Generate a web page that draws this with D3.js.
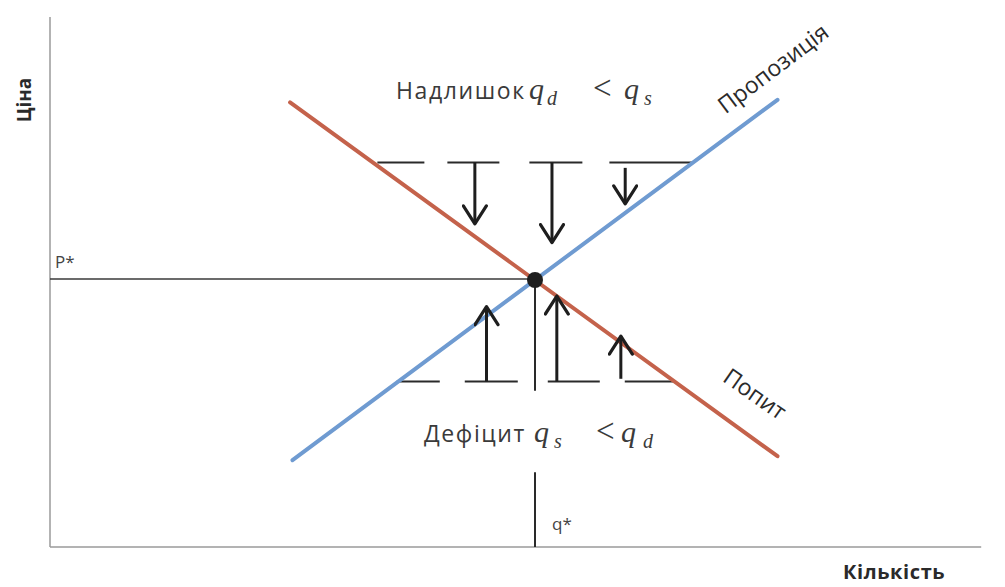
<!DOCTYPE html>
<html>
<head>
<meta charset="utf-8">
<script src="https://cdn.jsdelivr.net/npm/d3@7"></script>
<style>
  body { margin: 0; background: #fff; }
  svg { display: block; }
</style>
</head>
<body>
<div id="chart"></div>
<script>
const width = 1005;
const height = 587;

// lines in (quantity, price) units, equilibrium at (10, 10)
const supply = [{ q: 5.0, p: 3.25 }, { q: 15.0, p: 16.75 }];
const demand = [{ q: 4.95, p: 16.65 }, { q: 15.0, p: 3.4 }];
const equilibrium = { q: 10, p: 10 };
const axisEnd = { q: 19.2, p: 19.85 };

// dashed price levels above / below equilibrium
const priceLevels = [
    { p: 14.4, q0: 6.75, q1: 13.25, dash: '47,23,52,30,53,27,90' },
    { p: 6.2, q0: 7.15, q1: 12.9, dash: '43,25,53,30,52,25,60' }
];

// arrows: quantity, start price, end price
const arrows = [
    { q: 8.76, from: 14.4, to: 12.1 },
    { q: 10.35, from: 14.4, to: 11.4 },
    { q: 11.86, from: 14.2, to: 12.85 },
    { q: 9.0, from: 6.2, to: 9.0 },
    { q: 10.45, from: 6.2, to: 9.4 },
    { q: 11.77, from: 6.3, to: 7.9 }
];

// q* guide pieces (gap left for the shortage label)
const qStarPieces = [[10, 5.85], [2.8, 0]];

const x = d3.scaleLinear().domain([0, 10]).range([50, 535]);
const y = d3.scaleLinear().domain([0, 10]).range([547, 280]);

const svg = d3.select('#chart')
    .append('svg')
    .attr('width', width)
    .attr('height', height);

svg.append('defs').append('marker')
    .attr('id', 'head')
    .attr('markerUnits', 'userSpaceOnUse')
    .attr('viewBox', '0 0 22 26')
    .attr('refX', 20)
    .attr('refY', 13)
    .attr('markerWidth', 22)
    .attr('markerHeight', 26)
    .attr('orient', 'auto')
    .append('path')
    .attr('d', 'M2,1.5 L20,13 L2,24.5')
    .attr('fill', 'none')
    .attr('stroke', '#1e1e1e')
    .attr('stroke-width', 3.2)
    .attr('stroke-linecap', 'round')
    .attr('stroke-linejoin', 'round');

// axes
svg.append('line')
    .attr('x1', x(0)).attr('y1', y(0))
    .attr('x2', x(0)).attr('y2', y(axisEnd.p))
    .attr('stroke', '#9a9a9a').attr('stroke-width', 1.5);
svg.append('line')
    .attr('x1', x(0)).attr('y1', y(0))
    .attr('x2', x(axisEnd.q)).attr('y2', y(0))
    .attr('stroke', '#9a9a9a').attr('stroke-width', 1.5);

// P* guide
svg.append('line')
    .attr('x1', x(0)).attr('y1', y(equilibrium.p) - 1)
    .attr('x2', x(equilibrium.q)).attr('y2', y(equilibrium.p) - 1)
    .attr('stroke', '#3a3a3a').attr('stroke-width', 1.6);

// q* guide
svg.selectAll('line.qstar')
    .data(qStarPieces)
    .enter()
    .append('line')
    .attr('class', 'qstar')
    .attr('x1', x(equilibrium.q)).attr('x2', x(equilibrium.q))
    .attr('y1', d => y(d[0])).attr('y2', d => y(d[1]))
    .attr('stroke', '#2a2a2a').attr('stroke-width', 2);

// dashed price levels
svg.selectAll('line.level')
    .data(priceLevels)
    .enter()
    .append('line')
    .attr('class', 'level')
    .attr('x1', d => x(d.q0)).attr('x2', d => x(d.q1))
    .attr('y1', d => y(d.p)).attr('y2', d => y(d.p))
    .attr('stroke', '#2a2a2a')
    .attr('stroke-width', 2)
    .attr('stroke-dasharray', d => d.dash);

// supply & demand
const line = d3.line().x(d => x(d.q)).y(d => y(d.p));
svg.append('path')
    .attr('d', line(supply))
    .attr('fill', 'none')
    .attr('stroke', '#6f9bd1')
    .attr('stroke-width', 4)
    .attr('stroke-linecap', 'round');
svg.append('path')
    .attr('d', line(demand))
    .attr('fill', 'none')
    .attr('stroke', '#c4624b')
    .attr('stroke-width', 4)
    .attr('stroke-linecap', 'round');

// arrows
svg.selectAll('line.arrow')
    .data(arrows)
    .enter()
    .append('line')
    .attr('class', 'arrow')
    .attr('x1', d => x(d.q)).attr('x2', d => x(d.q))
    .attr('y1', d => y(d.from)).attr('y2', d => y(d.to))
    .attr('stroke', '#1e1e1e')
    .attr('stroke-width', 3)
    .attr('marker-end', 'url(#head)');

// equilibrium point
svg.append('circle')
    .attr('cx', x(equilibrium.q))
    .attr('cy', y(equilibrium.p))
    .attr('r', 8)
    .attr('fill', '#1e1e1e');

// texts
const sans = "'Open Sans', 'Noto Sans', sans-serif";
const math = "'Liberation Serif', 'DejaVu Serif', serif";

svg.append('text')
    .attr('transform', 'translate(31,100) rotate(-90)')
    .attr('text-anchor', 'middle')
    .attr('font-family', sans)
    .attr('font-weight', 'bold')
    .attr('font-size', 19)
    .attr('fill', '#2a2a2a')
    .text('Ціна');

svg.append('text')
    .attr('x', 843).attr('y', 579)
    .attr('font-family', sans)
    .attr('font-weight', 'bold')
    .attr('font-size', 20)
    .attr('letter-spacing', 0.6)
    .attr('fill', '#2a2a2a')
    .text('Кількість');

svg.append('text')
    .attr('x', x(0) + 5).attr('y', y(equilibrium.p) - 12)
    .attr('font-family', sans)
    .attr('font-size', 17)
    .attr('fill', '#444')
    .text('P*');

svg.append('text')
    .attr('x', x(equilibrium.q) + 17).attr('y', y(0) - 17)
    .attr('font-family', sans)
    .attr('font-size', 17)
    .attr('fill', '#444')
    .text('q*');

// word + q_a < q_b, offsets are x positions of the math pieces
function mathLabel(x0, yPos, word, a, b, off) {
    const g = svg.append('g').attr('fill', '#3a3a3a');
    g.append('text')
        .attr('x', x0).attr('y', yPos)
        .attr('font-family', sans)
        .attr('font-size', 23)
        .attr('letter-spacing', 1.6)
        .text(word);
    const parts = [
        { t: 'q', dx: off[0], dy: 0, size: 30, it: true },
        { t: a, dx: off[1], dy: 6, size: 20, it: true },
        { t: '<', dx: off[2], dy: 0, size: 33, it: false },
        { t: 'q', dx: off[3], dy: 0, size: 30, it: true },
        { t: b, dx: off[4], dy: 6, size: 20, it: true }
    ];
    g.selectAll('text.m')
        .data(parts)
        .enter()
        .append('text')
        .attr('class', 'm')
        .attr('x', d => x0 + d.dx)
        .attr('y', d => yPos + d.dy)
        .attr('font-family', math)
        .attr('font-style', d => d.it ? 'italic' : 'normal')
        .attr('font-size', d => d.size)
        .text(d => d.t);
}

mathLabel(396, 99, 'Надлишок', 'd', 's', [133, 151, 197, 228, 248]);
mathLabel(424, 442, 'Дефіцит', 's', 'd', [110, 130, 172, 197, 219]);

svg.append('text')
    .attr('transform', `translate(${x(supply[1].q) - 5},${y(supply[1].p) - 32}) rotate(-37)`)
    .attr('text-anchor', 'middle')
    .attr('dominant-baseline', 'central')
    .attr('font-family', sans)
    .attr('font-size', 23)
    .attr('fill', '#2a2a2a')
    .text('Пропозиція');

svg.append('text')
    .attr('transform', `translate(${x(demand[1].q) - 22},${y(demand[1].p) - 63}) rotate(35)`)
    .attr('text-anchor', 'middle')
    .attr('dominant-baseline', 'central')
    .attr('font-family', sans)
    .attr('font-size', 23)
    .attr('fill', '#2a2a2a')
    .text('Попит');
</script>
</body>
</html>
